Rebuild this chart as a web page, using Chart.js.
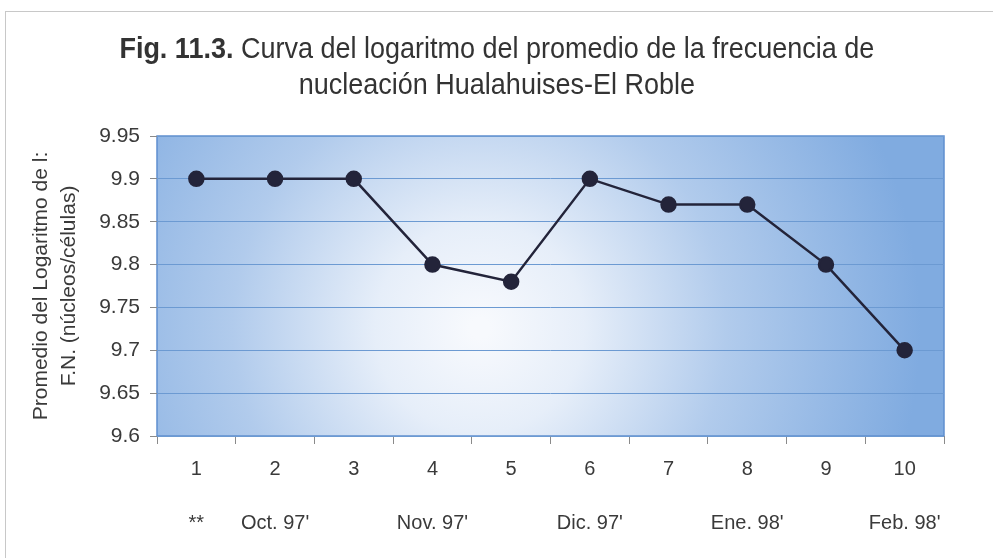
<!DOCTYPE html>
<html>
<head>
<meta charset="utf-8">
<script src="https://cdn.jsdelivr.net/npm/chart.js@4.4.1/dist/chart.umd.min.js"></script>
<style>
  html, body { margin: 0; padding: 0; background: #fff; }
  #wrap { position: relative; width: 993px; height: 558px; overflow: hidden; }
  #frame { position: absolute; left: 5px; top: 11px; width: 1200px; height: 600px; border: 1px solid #c8c8c8; box-sizing: border-box; }
  #title {
    position: absolute; left: 0; top: 30px; width: 993px; text-align: center;
    font-family: 'Liberation Sans', Arial, sans-serif;
    font-size: 30px; line-height: 36px; color: #333;
    transform: scaleX(0.9); transform-origin: 500px 0;
  }
  #title b { font-weight: bold; }
  canvas { position: absolute; left: 0; top: 0; }
</style>
</head>
<body>
<div id="wrap">
  <div id="frame"></div>
  <canvas id="chart" width="993" height="558"></canvas>
  <div id="title"><b>Fig. 11.3.</b> Curva del logaritmo del promedio de la frecuencia de<br>nucleación Hualahuises-El Roble</div>
</div>
<script>
'use strict';

// ---- Data ----
var muestras = ['1', '2', '3', '4', '5', '6', '7', '8', '9', '10'];
var meses = ['**', "Oct. 97'", '', "Nov. 97'", '', "Dic. 97'", '', "Ene. 98'", '', "Feb. 98'"];
var logFrecuencia = [9.9, 9.9, 9.9, 9.8, 9.78, 9.9, 9.87, 9.87, 9.8, 9.7];
var yTitulo = ['Promedio del Logaritmo de l:', 'F.N. (núcleos/células)'];

var textColor = '#3a3a3a';
var tickFont = { family: "'Liberation Sans', Arial, sans-serif", size: 20 };

// radial background behind the plot area
var plotBackground = {
  id: 'plotBackground',
  beforeDraw: function(chart) {
    var a = chart.chartArea;
    var ctx = chart.ctx;
    var cx = a.left + (a.right - a.left) * 0.41;
    var cy = a.top + (a.bottom - a.top) * 0.64;
    var g = ctx.createRadialGradient(cx, cy, 10, cx, cy, (a.right - a.left) * 0.56);
    g.addColorStop(0, '#f7f9fd');
    g.addColorStop(0.22, '#e6eef9');
    g.addColorStop(0.55, '#b1cbec');
    g.addColorStop(1, '#80abe0');
    ctx.save();
    ctx.fillStyle = g;
    ctx.fillRect(a.left, a.top, a.right - a.left, a.bottom - a.top);
    ctx.strokeStyle = '#5f8fcf';
    ctx.lineWidth = 1.5;
    ctx.strokeRect(a.left, a.top, a.right - a.left, a.bottom - a.top);
    ctx.restore();
  }
};

new Chart(document.getElementById('chart'), {
  type: 'line',
  data: {
    labels: muestras,
    datasets: [{
      data: logFrecuencia,
      borderColor: '#23243a',
      backgroundColor: '#23243a',
      borderWidth: 2.5,
      pointRadius: 7,
      pointHoverRadius: 7,
      tension: 0,
      fill: false,
      xAxisID: 'x',
    }],
  },
  options: {
    responsive: false,
    animation: false,
    events: [],
    layout: { padding: { top: 136, right: 49, left: 0, bottom: 0 } },
    plugins: {
      legend: { display: false },
      tooltip: { enabled: false },
    },
    scales: {
      x: {
        type: 'category',
        offset: true,
        grid: { drawOnChartArea: false, drawTicks: true, tickLength: 8, color: '#8a8a8a', offset: true },
        border: { display: false },
        ticks: { color: textColor, font: tickFont, padding: 13, autoSkip: false, maxRotation: 0 },
      },
      x2: {
        type: 'category',
        labels: meses,
        position: 'bottom',
        offset: true,
        grid: { display: false },
        border: { display: false },
        ticks: { color: textColor, font: tickFont, padding: 9, autoSkip: false, maxRotation: 0 },
        afterFit: function(s) { s.height = 558 - 437 - 57; },
      },
      y: {
        min: 9.6,
        max: 9.95,
        grid: { color: '#6c9ad2', lineWidth: 1, drawTicks: true, tickLength: 7, tickColor: '#8a8a8a' },
        border: { display: false },
        ticks: {
          stepSize: 0.05,
          color: textColor,
          font: { family: "'Liberation Sans', Arial, sans-serif", size: 21 },
          padding: 10,
          callback: function(v) { return String(Number(v.toFixed(2))); },
        },
        title: {
          display: true,
          text: yTitulo,
          color: textColor,
          font: { family: "'Liberation Sans', Arial, sans-serif", size: 21, lineHeight: 1.35 },
          padding: { top: 27, bottom: 6 },
        },
        afterFit: function(s) { s.width = 157; },
      },
    },
  },
  plugins: [plotBackground],
});
</script>
</body>
</html>
